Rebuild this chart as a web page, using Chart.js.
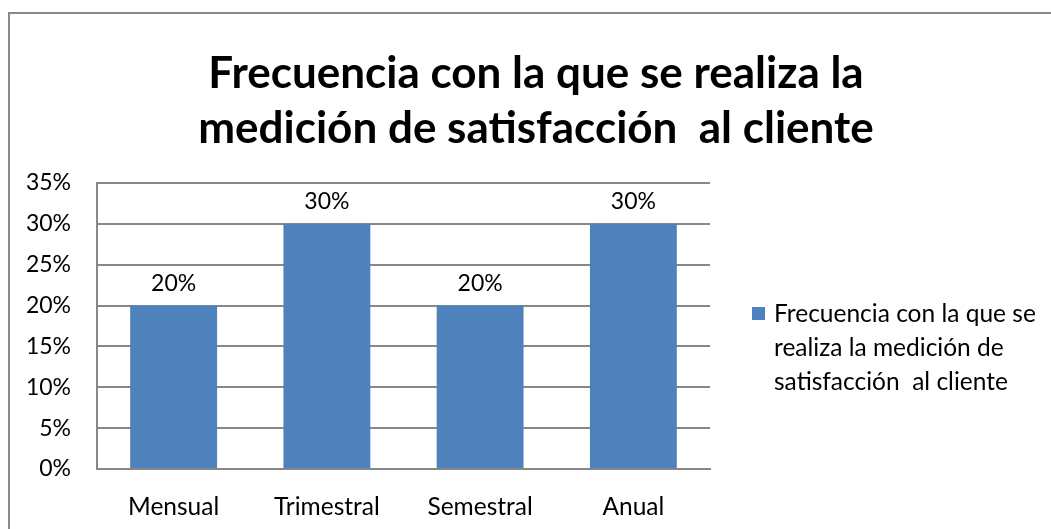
<!DOCTYPE html>
<html lang="es">
<head>
    <meta charset="UTF-8">
    <title>Frecuencia de medición de satisfacción</title>
    <script src="https://cdn.jsdelivr.net/npm/chart.js"></script>
    <style>
        html, body {
            margin: 0;
            padding: 0;
            background: #ffffff;
            overflow: hidden;
        }
        .frame {
            position: absolute;
            left: 8px;
            top: 12px;
            width: 1100px;
            height: 600px;
            border: 2px solid #8a8a8a;
        }
        #chart {
            position: absolute;
            left: 0;
            top: 0;
        }
    </style>
</head>
<body>
    <div class="frame"></div>
    <canvas id="chart" width="1051" height="529"></canvas>
    <script>
        const categories = ["Mensual", "Trimestral", "Semestral", "Anual"];
        const values = [0.20, 0.30, 0.20, 0.30];
        const titleLines = ["Frecuencia con la que se realiza la", "medición de satisfacción  al cliente"];
        const seriesName = "Frecuencia con la que se realiza la medición de satisfacción  al cliente";
        const legendLines = ["Frecuencia con la que se", "realiza la medición de", "satisfacción  al cliente"];

        const FONT = "Lato, 'Liberation Sans', sans-serif";
        const barColor = "#4f81bd";

        function pct(v) {
            return Math.round(v * 100) + "%";
        }

        // title, value labels and legend drawn by hand
        const extras = {
            id: "extras",
            afterDraw(chart) {
                const ctx = chart.ctx;
                ctx.save();
                ctx.fillStyle = "#000";

                // title
                ctx.font = "bold 44px " + FONT;
                ctx.textAlign = "center";
                ctx.textBaseline = "middle";
                titleLines.forEach((t, i) => ctx.fillText(t, 536, 74 + i * 55));

                // value labels
                ctx.font = "23px " + FONT;
                const meta = chart.getDatasetMeta(0);
                meta.data.forEach((bar, i) => {
                    ctx.fillText(pct(values[i]), bar.x, bar.y - 22);
                });

                // legend
                ctx.fillStyle = barColor;
                ctx.fillRect(752, 307, 13, 13);
                ctx.fillStyle = "#000";
                ctx.textAlign = "left";
                ctx.font = "24.5px " + FONT;
                legendLines.forEach((t, i) => ctx.fillText(t, 774, 314 + i * 34));
                ctx.restore();
            }
        };

        new Chart(document.getElementById("chart"), {
            type: "bar",
            data: {
                labels: categories,
                datasets: [{
                    label: seriesName,
                    data: values,
                    backgroundColor: barColor,
                    categoryPercentage: 1,
                    barPercentage: 0.567
                }]
            },
            options: {
                responsive: false,
                animation: false,
                layout: {
                    padding: { left: 0, right: 341, top: 183, bottom: 0 }
                },
                plugins: {
                    legend: { display: false },
                    title: { display: false },
                    tooltip: { enabled: false }
                },
                scales: {
                    x: {
                        afterFit: s => { s.height = 60; },
                        grid: { display: false, drawTicks: false },
                        border: { color: "#878787", width: 2 },
                        ticks: {
                            color: "#000",
                            padding: 23,
                            font: { family: FONT, size: 24.5 }
                        }
                    },
                    y: {
                        min: 0,
                        max: 0.35,
                        afterFit: s => { s.width = 97; },
                        grid: { color: "#878787", lineWidth: 2, drawTicks: false },
                        border: { color: "#878787", width: 2 },
                        ticks: {
                            stepSize: 0.05,
                            color: "#000",
                            padding: 26,
                            font: { family: FONT, size: 23 },
                            callback: v => pct(v)
                        }
                    }
                }
            },
            plugins: [extras]
        });
    </script>
</body>
</html>
